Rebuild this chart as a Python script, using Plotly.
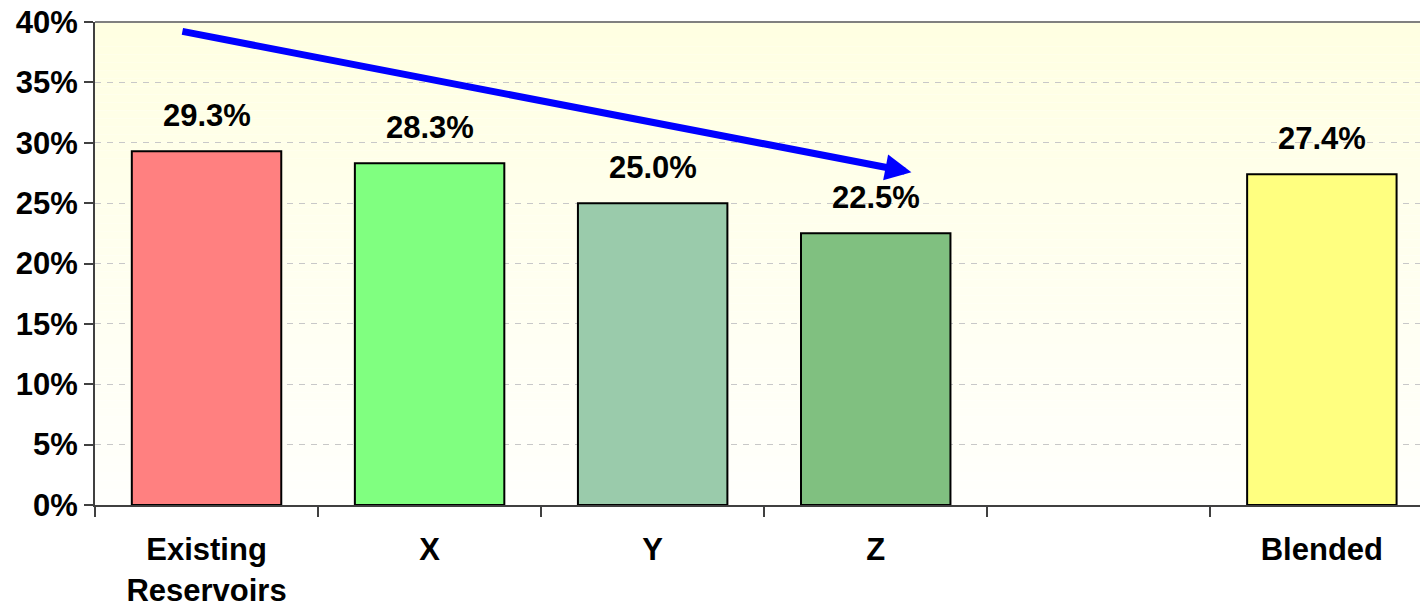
import plotly.graph_objects as go

categories = ["Existing<br>Reservoirs", "X", "Y", "Z", " ", "Blended"]
values = [29.3, 28.3, 25.0, 22.5, None, 27.4]
labels = ["29.3%", "28.3%", "25.0%", "22.5%", "", "27.4%"]
bar_colors = ["#FF8080", "#80FF80", "#9ACBAB", "#80C080", "#FFFFFF", "#FFFF80"]
y_ticks = [0, 5, 10, 15, 20, 25, 30, 35, 40]
y_ticktext = [f"{v}%" for v in y_ticks]

# trend arrow (data coordinates: category index, percent)
arrow_start = (-0.115, 39.25)
arrow_end = (3.16, 27.55)

FONT = "Liberation Sans, Arial, sans-serif"
FS = 31

fig = go.Figure()
fig.add_trace(go.Bar(
    x=categories, y=values,
    marker=dict(color=bar_colors, line=dict(color="#000000", width=2)),
    width=0.67, showlegend=False, hoverinfo="skip",
))

# data labels
for c, v, t in zip(categories, values, labels):
    if v is None:
        continue
    fig.add_annotation(x=c, y=v, text=t, showarrow=False, yanchor="bottom",
                       yshift=16, font=dict(family=FONT, size=FS, color="#000000", weight="bold"))

# arrow
fig.add_annotation(x=arrow_end[0], y=arrow_end[1], ax=arrow_start[0], ay=arrow_start[1],
                   xref="x", yref="y", axref="x", ayref="y", text="", showarrow=True,
                   arrowhead=2, arrowsize=0.75, arrowwidth=7, arrowcolor="#0000FF")

# gradient background
shapes = []
n = 60
top = (255, 255, 226)
bot = (255, 255, 252)
for i in range(n):
    f = i / (n - 1)
    col = tuple(round(top[k] + (bot[k] - top[k]) * f) for k in range(3))
    shapes.append(dict(type="rect", xref="paper", yref="paper", x0=0, x1=1,
                       y0=1 - (i + 1) / n, y1=1 - i / n, layer="below",
                       fillcolor=f"rgb{col}", line=dict(width=0)))
shapes.append(dict(type="line", xref="paper", yref="paper", x0=0, x1=1, y0=1, y1=1,
                   line=dict(color="#808080", width=2)))
fig.update_layout(shapes=shapes)

fig.update_layout(
    width=1420, height=606,
    margin=dict(l=95, r=0, t=22, b=101),
    paper_bgcolor="#FFFFFF", plot_bgcolor="rgba(0,0,0,0)",
    font=dict(family=FONT, size=FS, color="#000000", weight="bold"),
    xaxis=dict(type="category", range=[-0.5, 5.44], tickson="boundaries",
               ticks="outside", ticklen=10, tickcolor="#404040", tickwidth=2,
               showline=True, linecolor="#404040", linewidth=2, showgrid=False,
               ticklabelstandoff=16, automargin=False,
               tickfont=dict(family=FONT, size=FS, color="#000000", weight="bold")),
    yaxis=dict(range=[0, 40], tickvals=y_ticks, ticktext=y_ticktext,
               ticks="outside", ticklen=9, tickcolor="#404040", tickwidth=2,
               showline=True, linecolor="#404040", linewidth=2,
               showgrid=True, gridcolor="#C8C8C8", gridwidth=1, griddash="6px,6px",
               zeroline=False, automargin=False,
               tickfont=dict(family=FONT, size=FS, color="#000000", weight="bold")),
)

fig.write_html("out.html", config={"displayModeBar": False},
               post_script="document.body.style.margin='0';document.body.style.overflow='hidden';")
